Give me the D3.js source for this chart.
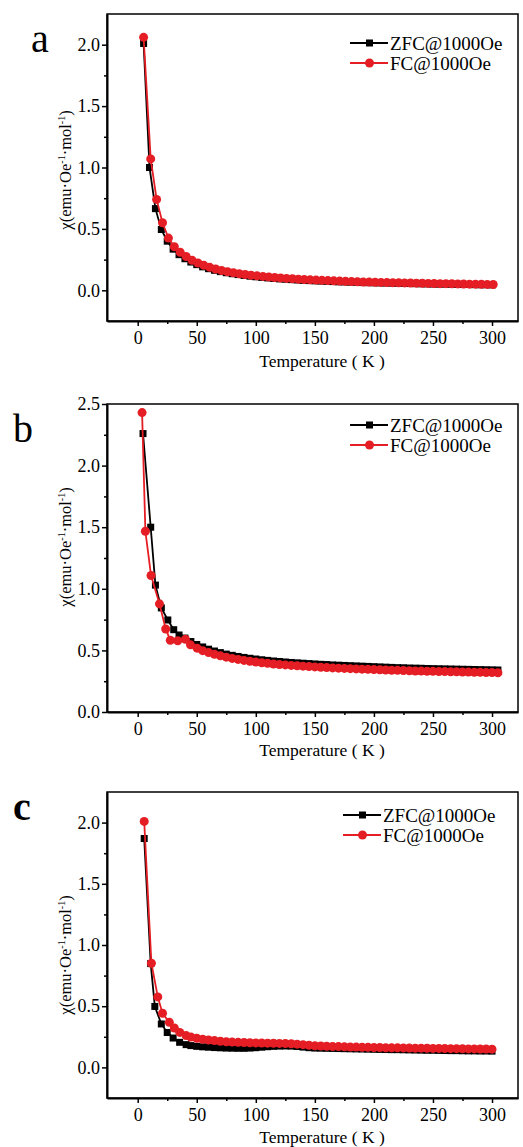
<!DOCTYPE html>
<html>
<head>
<meta charset="utf-8">
<script src="https://cdn.jsdelivr.net/npm/d3@7"></script>
<style>
  body { margin: 0; background: #fff; }
  svg text { font-family: "Liberation Serif", "Times New Roman", "DejaVu Serif", serif; fill: #000; }
</style>
</head>
<body>
<svg id="fig" width="523" height="1147"></svg>
<script>
// ---- data ----
var aZfcTemp = [5,10,15,20,25,30,35,40,45,50,55,60,65,70,75,80,85,90,95,100,105,110,115,120,125,130,135,140,145,150,155,160,165,170,175,180,185,190,195,200,205,210,215,220,225,230,235,240,245,250,255,260,265,270,275,280,285,290,295,300];
var aZfcChi = [2.01,1.00,0.665,0.495,0.40,0.335,0.29,0.257,0.23,0.209,0.191,0.176,0.163,0.152,0.143,0.135,0.128,0.121,0.115,0.110,0.105,0.101,0.097,0.093,0.090,0.087,0.084,0.081,0.079,0.077,0.075,0.073,0.071,0.069,0.068,0.066,0.065,0.063,0.062,0.061,0.060,0.059,0.058,0.057,0.056,0.055,0.054,0.053,0.052,0.051,0.050,0.050,0.049,0.048,0.047,0.047,0.046,0.045,0.045,0.044];
var aFcTemp = [5,11,16,21,26,31,36,41,46,51,56,61,66,71,76,81,86,91,96,101,106,111,116,121,126,131,136,141,146,151,156,161,166,171,176,181,186,191,196,201,206,211,216,221,226,231,236,241,246,251,256,261,266,271,276,281,286,291,296,301];
var aFcChi = [2.06,1.07,0.74,0.55,0.425,0.355,0.31,0.275,0.245,0.222,0.203,0.187,0.173,0.161,0.151,0.143,0.135,0.129,0.123,0.118,0.113,0.108,0.104,0.100,0.097,0.094,0.091,0.088,0.085,0.083,0.081,0.079,0.077,0.075,0.073,0.071,0.070,0.068,0.067,0.066,0.064,0.063,0.062,0.061,0.060,0.059,0.058,0.057,0.056,0.055,0.054,0.054,0.053,0.052,0.051,0.050,0.050,0.049,0.048,0.047];

var bZfcTemp = [4.5,11,15,20,25.5,30.5,35,40,45,50,55,60,65,70,75,80,85,90,95,100,105,110,115,120,125,130,135,140,145,150,155,160,165,170,175,180,185,190,195,200,205,210,215,220,225,230,235,240,245,250,255,260,265,270,275,280,285,290,295,300,305];
var bZfcChi = [2.26,1.50,1.03,0.845,0.747,0.668,0.625,0.600,0.572,0.548,0.528,0.510,0.495,0.482,0.470,0.460,0.451,0.443,0.436,0.430,0.424,0.419,0.414,0.410,0.406,0.402,0.399,0.396,0.393,0.390,0.387,0.385,0.382,0.380,0.378,0.376,0.374,0.372,0.370,0.368,0.366,0.364,0.362,0.360,0.359,0.357,0.356,0.355,0.353,0.352,0.351,0.350,0.349,0.348,0.347,0.346,0.345,0.344,0.343,0.342,0.341];
var bFcTemp = [3.7,6.5,11.3,18.4,23.7,27.6,33.9,40.4,44.7,50.3,55,60,65,70,75,80,85,90,95,100,105,110,115,120,125,130,135,140,145,150,155,160,165,170,175,180,185,190,195,200,205,210,215,220,225,230,235,240,245,250,255,260,265,270,275,280,285,290,295,300,305];
var bFcChi = [2.43,1.467,1.108,0.878,0.674,0.582,0.578,0.590,0.545,0.518,0.498,0.482,0.468,0.456,0.445,0.435,0.427,0.419,0.412,0.406,0.400,0.395,0.390,0.386,0.382,0.378,0.375,0.372,0.369,0.366,0.363,0.361,0.358,0.356,0.354,0.352,0.350,0.348,0.346,0.344,0.342,0.341,0.339,0.338,0.336,0.335,0.333,0.332,0.331,0.330,0.329,0.328,0.327,0.326,0.325,0.324,0.323,0.322,0.321,0.320,0.319];

var cZfcTemp = [5.5,11,14.5,20,25,30,35.5,41,45,50,55,60,65,70,75,80,85,90,95,100,105,110,115,120,125,130,135,140,145,150,155,160,165,170,175,180,185,190,195,200,205,210,215,220,225,230,235,240,245,250,255,260,265,270,275,280,285,290,295,300];
var cZfcChi = [1.87,0.848,0.498,0.355,0.285,0.240,0.205,0.186,0.178,0.172,0.168,0.165,0.162,0.160,0.158,0.157,0.156,0.156,0.158,0.161,0.165,0.169,0.172,0.174,0.175,0.174,0.171,0.166,0.161,0.158,0.157,0.156,0.155,0.154,0.153,0.152,0.151,0.150,0.149,0.148,0.147,0.146,0.145,0.145,0.144,0.143,0.142,0.141,0.140,0.140,0.139,0.138,0.137,0.137,0.136,0.135,0.135,0.134,0.134,0.133];
var cFcTemp = [5.5,11.6,17,21,26.8,31,35.6,41,45,50,55,60,65,70,75,80,85,90,95,100,105,110,115,120,125,130,135,140,145,150,155,160,165,170,175,180,185,190,195,200,205,210,215,220,225,230,235,240,245,250,255,260,265,270,275,280,285,290,295,300];
var cFcChi = [2.01,0.851,0.576,0.442,0.368,0.322,0.286,0.260,0.248,0.238,0.230,0.224,0.219,0.214,0.210,0.207,0.205,0.203,0.201,0.200,0.199,0.198,0.197,0.196,0.195,0.193,0.190,0.186,0.181,0.177,0.175,0.173,0.171,0.170,0.168,0.167,0.166,0.165,0.164,0.163,0.162,0.161,0.160,0.160,0.159,0.158,0.157,0.157,0.156,0.155,0.155,0.154,0.153,0.153,0.152,0.151,0.151,0.150,0.150,0.149];

var xMajor = [0,50,100,150,200,250,300];
var xMinor = [25,75,125,175,225,275];
var seriesNames = ["ZFC@1000Oe", "FC@1000Oe"];

// ---- layout ----
var svg = d3.select("#fig");
var serif = '"Liberation Serif", "Times New Roman", "DejaVu Serif", serif';
var red = "#e41e24";
var left = 107, right = 518;

var panels = [
  {letter: "a", lx: 31, ly: 52, top: 14, bottom: 321, yDom: [-0.25, 2.25], yMajor: [0,0.5,1,1.5,2], yMinor: [0.25,0.75,1.25,1.75],
   zT: aZfcTemp, zY: aZfcChi, fT: aFcTemp, fY: aFcChi, legX: 350, legY: 43, ylabY: 170, titleY: 367},
  {letter: "b", lx: 13, ly: 442, top: 404, bottom: 712, yDom: [0, 2.5], yMajor: [0,0.5,1,1.5,2,2.5], yMinor: [0.25,0.75,1.25,1.75,2.25],
   zT: bZfcTemp, zY: bZfcChi, fT: bFcTemp, fY: bFcChi, legX: 350, legY: 425, ylabY: 547, titleY: 756},
  {letter: "c", lx: 13, ly: 820, top: 792, bottom: 1098, yDom: [-0.25, 2.25], yMajor: [0,0.5,1,1.5,2], yMinor: [0.25,0.75,1.25,1.75],
   zT: cZfcTemp, zY: cZfcChi, fT: cFcTemp, fY: cFcChi, legX: 343, legY: 815, ylabY: 955, titleY: 1143}
];

panels.forEach(drawPanel);

function drawPanel(p) {
  var x = d3.scaleLinear().domain([-26, 322]).range([left, right]);
  var y = d3.scaleLinear().domain(p.yDom).range([p.bottom, p.top]);
  var g = svg.append("g").attr("font-family", serif);

  // frame
  g.append("rect")
    .attr("x", left).attr("y", p.top)
    .attr("width", right - left).attr("height", p.bottom - p.top)
    .attr("fill", "none").attr("stroke", "#000").attr("stroke-width", 1.5);

  // axes: major + minor ticks
  g.append("g").attr("transform", `translate(0,${p.bottom})`)
    .call(d3.axisBottom(x).tickValues(xMajor).tickSize(5).tickSizeOuter(0).tickPadding(5));
  g.append("g").attr("transform", `translate(0,${p.bottom})`)
    .call(d3.axisBottom(x).tickValues(xMinor).tickSize(3).tickSizeOuter(0).tickFormat(""))
    .select(".domain").remove();

  g.append("g").attr("transform", `translate(${left},0)`)
    .call(d3.axisLeft(y).tickValues(p.yMajor).tickSize(5).tickSizeOuter(0).tickPadding(2).tickFormat(d3.format(".1f")));
  g.append("g").attr("transform", `translate(${left},0)`)
    .call(d3.axisLeft(y).tickValues(p.yMinor).tickSize(3).tickSizeOuter(0).tickFormat(""))
    .select(".domain").remove();

  g.selectAll(".domain").attr("stroke-width", 2);
  g.selectAll(".tick line").attr("stroke-width", 1.5);
  g.selectAll("g").attr("font-family", serif);
  g.selectAll(".tick text")
    .attr("font-family", serif)
    .attr("font-size", 18);

  // axis titles
  g.append("text")
    .attr("x", 322).attr("y", p.titleY)
    .attr("text-anchor", "middle").attr("font-size", 17.5)
    .text("Temperature ( K )");

  var yl = g.append("text")
    .attr("transform", `translate(71,${p.ylabY}) rotate(-90)`)
    .attr("text-anchor", "middle").attr("font-size", 16.5);
  yl.append("tspan").text("\u03C7(emu\u00B7Oe");
  yl.append("tspan").attr("font-size", 10).attr("dy", -6).text("-1");
  yl.append("tspan").attr("dy", 6).text("\u00B7mol");
  yl.append("tspan").attr("font-size", 10).attr("dy", -6).text("-1");
  yl.append("tspan").attr("dy", 6).text(")");

  // panel letter
  g.append("text")
    .attr("x", p.lx).attr("y", p.ly)
    .attr("font-size", 40)
    .attr("font-weight", p.letter === "c" ? "bold" : "normal")
    .text(p.letter);

  // series
  var zData = p.zT.map((t, i) => ({t: t, v: p.zY[i]}));
  var fData = p.fT.map((t, i) => ({t: t, v: p.fY[i]}));
  var line = d3.line().x(d => x(d.t)).y(d => y(d.v));

  g.append("path").datum(zData)
    .attr("d", line).attr("fill", "none").attr("stroke", "#000").attr("stroke-width", 1.8);
  g.selectAll(".sq").data(zData).enter().append("rect")
    .attr("class", "sq")
    .attr("x", d => x(d.t) - 3.5).attr("y", d => y(d.v) - 3.5)
    .attr("width", 7).attr("height", 7).attr("fill", "#000");

  g.append("path").datum(fData)
    .attr("d", line).attr("fill", "none").attr("stroke", red).attr("stroke-width", 1.8);
  g.selectAll(".ci").data(fData).enter().append("circle")
    .attr("class", "ci")
    .attr("cx", d => x(d.t)).attr("cy", d => y(d.v))
    .attr("r", 4.5).attr("fill", red);

  // legend
  var leg = g.append("g").attr("transform", `translate(${p.legX},${p.legY})`);
  leg.append("line").attr("x1", 0).attr("x2", 38).attr("y1", 0).attr("y2", 0)
    .attr("stroke", "#000").attr("stroke-width", 2);
  leg.append("rect").attr("x", 16).attr("y", -3.5).attr("width", 7).attr("height", 7).attr("fill", "#000");
  leg.append("text").attr("x", 40).attr("y", 6.5).attr("font-size", 19).text(seriesNames[0]);

  leg.append("line").attr("x1", 0).attr("x2", 38).attr("y1", 20).attr("y2", 20)
    .attr("stroke", red).attr("stroke-width", 2);
  leg.append("circle").attr("cx", 19.5).attr("cy", 20).attr("r", 4.5).attr("fill", red);
  leg.append("text").attr("x", 40).attr("y", 26.5).attr("font-size", 19).text(seriesNames[1]);
}
</script>
</body>
</html>
